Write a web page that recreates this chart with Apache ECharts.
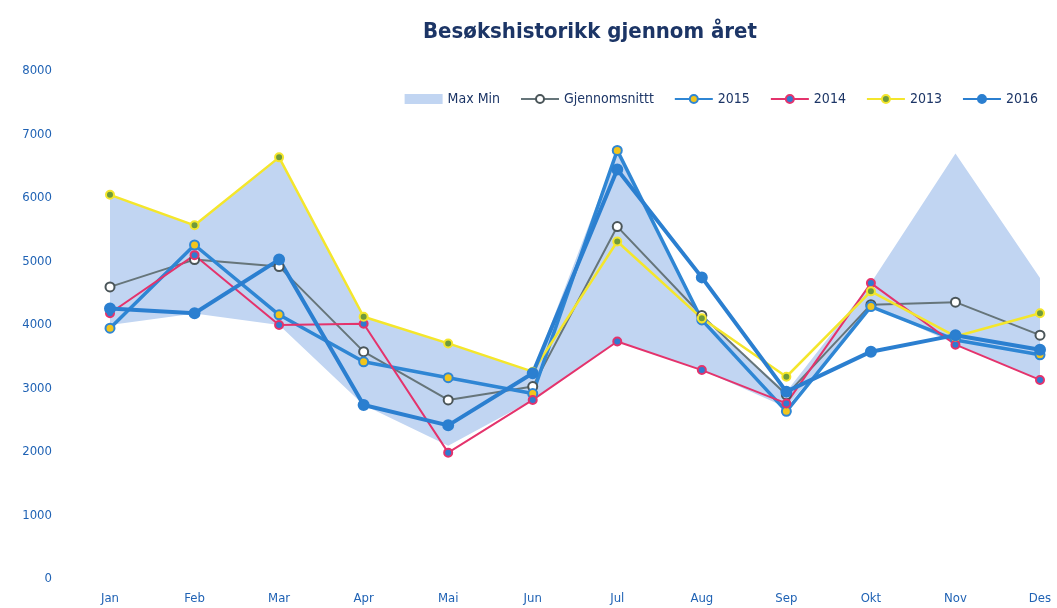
<!DOCTYPE html>
<html>
<head>
<meta charset="utf-8">
<script src="https://cdn.jsdelivr.net/npm/echarts@6/dist/echarts.min.js"></script>
<style>html,body{margin:0;padding:0;background:#fff;}#c{width:1057px;height:608px;}</style>
</head>
<body>
<div id="c"></div>
<script>
const categories = ['Jan','Feb','Mar','Apr','Mai','Jun','Jul','Aug','Sep','Okt','Nov','Des'];
const yTicks = [0,1000,2000,3000,4000,5000,6000,7000,8000];
const bandMax = [6050,5570,6640,4130,3710,3260,6750,4100,2950,4660,6700,4740];
const bandMin = [4000,4180,4000,2740,2100,2820,3740,3290,2700,4300,3700,3140];
const gjennomsnitt = [4600,5030,4920,3580,2820,3030,5550,4150,2900,4320,4360,3840];
const y2015 = [3950,5260,4160,3420,3170,2920,6750,4080,2640,4290,3765,3530];
const y2014 = [4185,5100,4000,4020,1990,2820,3740,3290,2765,4660,3690,3135];
const y2013 = [6050,5570,6640,4130,3710,3265,5315,4105,3185,4530,3820,4185];
const y2016 = [4260,4185,5030,2740,2420,3240,6450,4750,2950,3580,3840,3610];

const FONT = '"Liberation Sans Narrow","DejaVu Sans Condensed","Open Sans",sans-serif';
const bandDiff = bandMax.map((v,i)=>v-bandMin[i]);

const chart = echarts.init(document.getElementById('c'), null, {renderer:'canvas'});
function lineSeries(name, data, color, width, fill, border, size){
  return {
    name, type:'line', data, symbol:'circle', symbolSize:size,
    lineStyle:{color, width},
    itemStyle:{color:fill, borderColor:border, borderWidth:2},
    z:3, animation:false
  };
}
chart.setOption({
  animation:false,
  title:{
    text:'Besøkshistorikk gjennom året',
    left:585, top:16, textAlign:'center',
    textStyle:{fontFamily:FONT, fontSize:22, fontWeight:'bold', color:'#1c3566'}
  },
  legend:{
    data:[{name:'Max Min', icon:'rect'},'Gjennomsnittt','2015','2014','2013','2016'],
    right:14, top:87, itemWidth:38, itemHeight:10, itemGap:20,
    textStyle:{fontFamily:FONT, fontSize:14, color:'#1c3566'}
  },
  grid:{left:110, right:17, top:71, bottom:29},
  xAxis:{
    type:'category', data:categories, boundaryGap:false,
    axisLine:{show:false}, axisTick:{show:false}, splitLine:{show:false},
    axisLabel:{fontFamily:FONT, fontSize:13, color:'#1f62b4', margin:13}
  },
  yAxis:{
    type:'value', min:yTicks[0], max:yTicks[yTicks.length-1], interval:1000,
    axisLine:{show:false}, axisTick:{show:false}, splitLine:{show:false},
    axisLabel:{fontFamily:FONT, fontSize:13, color:'#1f62b4', margin:58,
      formatter:(v)=>String(v)}
  },
  series:[
    {name:'band-base', type:'line', stack:'band', data:bandMin, symbol:'none',
     lineStyle:{opacity:0}, silent:true, z:1},
    {name:'Max Min', type:'line', stack:'band', data:bandDiff, symbol:'none',
     lineStyle:{opacity:0}, areaStyle:{color:'#c1d5f2', opacity:1},
     itemStyle:{color:'#c1d5f2'}, z:1},
    lineSeries('Gjennomsnittt', gjennomsnitt, '#66757a', 2, '#ffffff', '#4a5559', 9),
    lineSeries('2015', y2015, '#2f86d4', 3.5, '#f2c51c', '#2f86d4', 9),
    lineSeries('2014', y2014, '#e4336c', 2, '#2f7bd0', '#e4336c', 8),
    lineSeries('2013', y2013, '#f4e62c', 2.5, '#6f9a3c', '#f4e62c', 8),
    lineSeries('2016', y2016, '#2b7fd0', 4, '#2b7fd0', '#2b7fd0', 10)
  ]
});
</script>
</body>
</html>
